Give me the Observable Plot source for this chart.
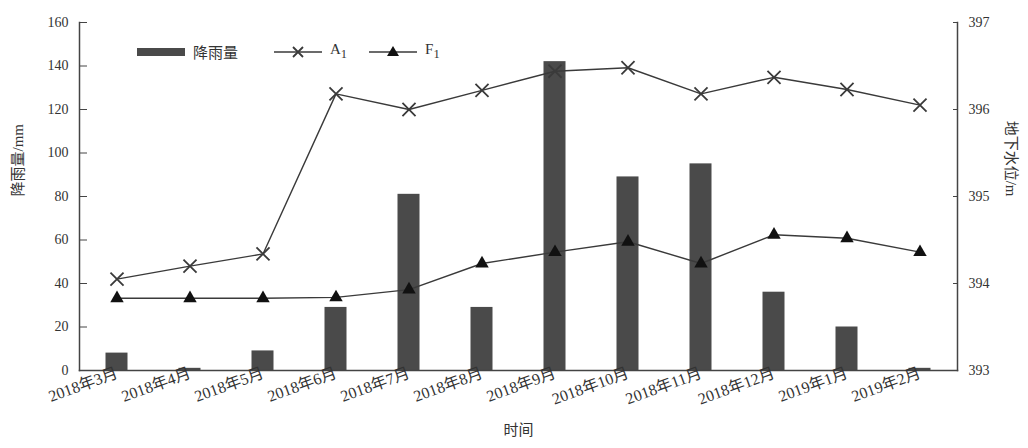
<!DOCTYPE html>
<html><head><meta charset="utf-8">
<script src="https://cdn.jsdelivr.net/npm/d3@7"></script>
<script src="https://cdn.jsdelivr.net/npm/@observablehq/plot@0.6"></script>
<style>
body{margin:0;background:#fff;font-family:"Liberation Serif","Noto Sans CJK SC",serif;}
#wrap{position:relative;width:1028px;height:448px;}
#legend{position:absolute;left:137px;top:41px;display:flex;align-items:center;font-size:15px;color:#333;font-family:"Liberation Serif","Noto Sans CJK SC",serif;}
#legend .item{display:flex;align-items:center;margin-right:14px;}
</style></head>
<body><div id="wrap"><div id="chart"></div><div id="legend"></div></div>
<script>
const months = ["2018年3月","2018年4月","2018年5月","2018年6月","2018年7月","2018年8月","2018年9月","2018年10月","2018年11月","2018年12月","2019年1月","2019年2月"];
const rain = [8,1,9,29,81,29,142,89,95,36,20,1];
const a1 = [394.05,394.2,394.34,396.18,396.0,396.22,396.44,396.48,396.18,396.37,396.23,396.05];
const f1 = [393.83,393.83,393.83,393.84,393.93,394.23,394.36,394.48,394.23,394.56,394.52,394.36];
const leftTicks = [0,20,40,60,80,100,120,140,160];
const rightTicks = [393,394,395,396,397];
const rMin = 393, rMax = 397, lMax = 160;
const toLeft = v => (v - rMin) * lMax / (rMax - rMin);

const rainData = months.map((m,i)=>({m, v: rain[i]}));
const a1Data = months.map((m,i)=>({m, v: toLeft(a1[i])}));
const f1Data = months.map((m,i)=>({m, v: toLeft(f1[i])}));

const ink = "#3a3a3a";
const chart = Plot.plot({
  width: 1028, height: 448,
  marginLeft: 79, marginRight: 71, marginTop: 22, marginBottom: 78,
  style: {fontFamily: '"Liberation Serif","Noto Sans CJK SC",serif', fontSize: "14px", color: "#333", background: "#fff"},
  x: {type: "band", domain: months, padding: 0},
  y: {domain: [0, lMax]},
  marks: [
    Plot.barY(rainData, {x: "m", y: "v", fill: "#4a4a4a", insetLeft: 25.5, insetRight: 25.5}),
    Plot.line(a1Data, {x: "m", y: "v", stroke: ink, strokeWidth: 1.4}),
    Plot.dot(a1Data, {x: "m", y: "v", symbol: "times", r: 6, stroke: ink, strokeWidth: 1.8}),
    Plot.line(f1Data, {x: "m", y: "v", stroke: ink, strokeWidth: 1.4}),
    Plot.dot(f1Data, {x: "m", y: "v", symbol: "triangle", r: 5, fill: "#111", stroke: "none"}),
    Plot.frame({anchor: "left", stroke: "#444", strokeWidth: 1.5}),
    Plot.frame({anchor: "right", stroke: "#444", strokeWidth: 1.5}),
    Plot.frame({anchor: "bottom", stroke: "#444", strokeWidth: 1.5}),
    Plot.tickY(leftTicks, {y: d => d, frameAnchor: "left", stroke: "#444", strokeWidth: 1, insetRight: 1024 - 79 - 71 - 4}),
    Plot.tickY(rightTicks.map(toLeft), {y: d => d, stroke: "#444", strokeWidth: 1, insetLeft: 1028 - 79 - 71 - 4}),
    Plot.axisY({anchor: "left", ticks: leftTicks, tickSize: 0, tickPadding: 11, label: null, fontSize: 14}),
    Plot.axisY({anchor: "right", ticks: rightTicks.map(toLeft), tickFormat: d => String(Math.round(d*(rMax-rMin)/lMax + rMin)), tickSize: 0, tickPadding: 11, label: null, fontSize: 14}),
    Plot.axisX({anchor: "bottom", tickSize: 0, tickPadding: 2, tickRotate: -20, label: null, fontSize: 16}),
    Plot.text(["降雨量/mm"], {frameAnchor: "left", dx: -61, rotate: -90, fontSize: 15, fill: "#333"}),
    Plot.text(["地下水位/m"], {frameAnchor: "right", dx: 53, rotate: 90, fontSize: 15, fill: "#333"}),
    Plot.text(["时间"], {frameAnchor: "bottom", dy: 64, fontSize: 15, fill: "#333"})
  ]
});
document.getElementById("chart").append(chart);

const legendItems = [
  {label: "降雨量", svg: '<svg width="48" height="12"><rect x="0" y="2" width="48" height="8" fill="#4a4a4a"/></svg>'},
  {label: "A<sub>1</sub>", svg: '<svg width="48" height="16"><line x1="0" y1="8" x2="48" y2="8" stroke="#3a3a3a" stroke-width="1.4"/><path d="M19,3L29,13M29,3L19,13" stroke="#3a3a3a" stroke-width="1.8"/></svg>'},
  {label: "F<sub>1</sub>", svg: '<svg width="48" height="16"><line x1="0" y1="8" x2="48" y2="8" stroke="#3a3a3a" stroke-width="1.4"/><path d="M24,2L30,12L18,12Z" fill="#111"/></svg>'}
];
const lg = document.getElementById("legend");
legendItems.forEach((it, i) => {
  const d = document.createElement("div");
  d.className = "item";
  d.style.marginRight = i === 0 ? "36px" : "22px";
  d.innerHTML = it.svg + '<span style="margin-left:8px">' + it.label + '</span>';
  lg.append(d);
});
</script></body></html>
